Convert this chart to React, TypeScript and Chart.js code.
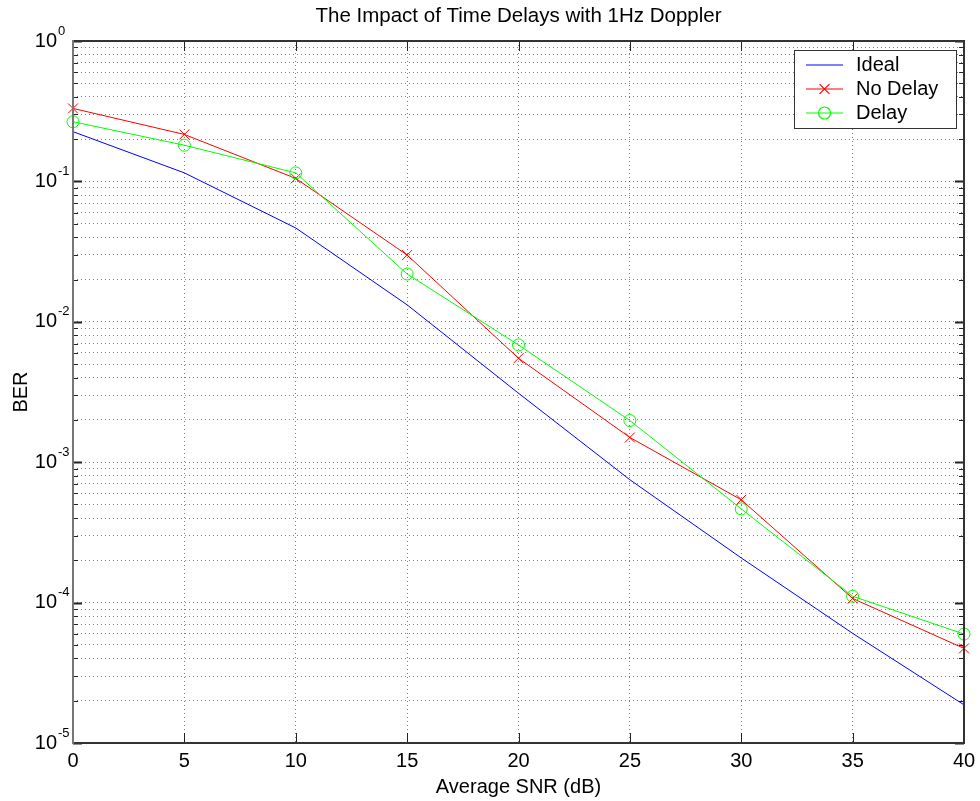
import React, { useEffect, useRef } from 'react';
import { Chart, registerables } from 'chart.js';

Chart.register(...registerables);

// ---- data ----
const snrDb = [0, 5, 10, 15, 20, 25, 30, 35, 40];
const berIdeal = [0.226, 0.115, 0.0466, 0.0132, 0.0031, 0.00075, 0.000208, 0.0000604, 0.0000187];
const berNoDelay = [0.331, 0.216, 0.105, 0.0299, 0.0055, 0.0015, 0.00054, 0.000107, 0.0000472];
const berDelay = [0.266, 0.181, 0.115, 0.0219, 0.00684, 0.00198, 0.000465, 0.000111, 0.0000597];
const seriesNames = ['Ideal', 'No Delay', 'Delay'];
const seriesColors = ['#0000ff', '#ff0000', '#00ff00'];
const seriesMarkers = ['none', 'crossRot', 'circle'];
const seriesMarkerRadius = [0, 7, 6];
const xTickLabels = ['0', '5', '10', '15', '20', '25', '30', '35', '40'];
const yDecadeExponents = [0, -1, -2, -3, -4, -5];
const titleText = 'The Impact of Time Delays with 1Hz Doppler';
const xTitleText = 'Average SNR (dB)';
const yTitleText = 'BER';

const FONT = "Arial, 'Liberation Sans', Helvetica, sans-serif";
const GRID_COLOR = 'rgba(0,0,0,0.5)';

function drawMarker(ctx: CanvasRenderingContext2D, style: string, x: number, y: number, r: number, color: string) {
  ctx.save();
  ctx.strokeStyle = color;
  ctx.lineWidth = 1.2;
  ctx.beginPath();
  if (style === 'crossRot') {
    const d = r * Math.SQRT1_2;
    ctx.moveTo(x - d, y - d);
    ctx.lineTo(x + d, y + d);
    ctx.moveTo(x - d, y + d);
    ctx.lineTo(x + d, y - d);
  } else if (style === 'circle') {
    ctx.arc(x, y, r, 0, Math.PI * 2);
  }
  ctx.stroke();
  ctx.restore();
}

const overlayPlugin = {
  id: 'matlabOverlay',
  beforeDraw(chart: any) {
    const { ctx, width, height } = chart;
    ctx.save();
    ctx.fillStyle = '#ffffff';
    ctx.fillRect(0, 0, width, height);
    ctx.restore();
  },
  afterDraw(chart: any) {
    const { ctx, chartArea: a, scales } = chart;
    const xs = scales.x;
    const ys = scales.y;
    ctx.save();

    // inward tick marks
    ctx.strokeStyle = '#222';
    ctx.lineWidth = 1;
    xs.ticks.forEach((t: any) => {
      const x = Math.round(xs.getPixelForValue(t.value)) + 0.5;
      ctx.beginPath();
      ctx.moveTo(x, a.bottom);
      ctx.lineTo(x, a.bottom - 10);
      ctx.moveTo(x, a.top);
      ctx.lineTo(x, a.top + 10);
      ctx.stroke();
    });
    ys.ticks.forEach((t: any) => {
      const y = Math.round(ys.getPixelForValue(t.value)) + 0.5;
      const lg = Math.log10(t.value);
      const major = Math.abs(lg - Math.round(lg)) < 1e-9;
      const len = major ? 9 : 5;
      ctx.lineWidth = major ? 2 : 1;
      ctx.beginPath();
      ctx.moveTo(a.left, y);
      ctx.lineTo(a.left + len, y);
      ctx.moveTo(a.right, y);
      ctx.lineTo(a.right - len, y);
      ctx.stroke();
    });

    // frame
    ctx.lineWidth = 2;
    ctx.strokeStyle = '#333';
    ctx.beginPath();
    ctx.moveTo(a.left, a.top);
    ctx.lineTo(a.right, a.top);
    ctx.lineTo(a.right, a.bottom);
    ctx.lineTo(a.left, a.bottom);
    ctx.stroke();
    ctx.strokeStyle = '#777';
    ctx.beginPath();
    ctx.moveTo(a.left, a.top - 1);
    ctx.lineTo(a.left, a.bottom + 1);
    ctx.stroke();

    // y tick labels with superscript exponents
    ctx.fillStyle = '#000';
    yDecadeExponents.forEach((e) => {
      const y = ys.getPixelForValue(Math.pow(10, e));
      ctx.font = `20px ${FONT}`;
      ctx.textAlign = 'right';
      ctx.textBaseline = 'middle';
      ctx.fillText('10', 57, y);
      ctx.font = `13px ${FONT}`;
      ctx.textAlign = 'left';
      ctx.fillText(String(e), 58, y - 10);
    });

    // x tick labels
    ctx.font = `20px ${FONT}`;
    ctx.textAlign = 'center';
    ctx.textBaseline = 'middle';
    xs.ticks.forEach((t: any, i: number) => {
      const x = xs.getPixelForValue(t.value);
      ctx.fillText(xTickLabels[i] ?? String(t.value), x, 761);
    });

    // titles
    const cx = (a.left + a.right) / 2;
    const cy = (a.top + a.bottom) / 2;
    ctx.fillText(xTitleText, cx, 787);
    ctx.font = `20.5px ${FONT}`;
    ctx.fillText(titleText, cx, 16);
    ctx.font = `20px ${FONT}`;
    ctx.save();
    ctx.translate(21, cy);
    ctx.rotate(-Math.PI / 2);
    ctx.fillText(yTitleText, 0, 0);
    ctx.restore();

    // legend
    const lx = 794, ly = 50, lw = 162, lh = 78;
    ctx.fillStyle = '#fff';
    ctx.fillRect(lx, ly, lw, lh);
    ctx.strokeStyle = '#333';
    ctx.lineWidth = 1;
    ctx.strokeRect(lx + 0.5, ly + 0.5, lw, lh);
    seriesNames.forEach((name, i) => {
      const ry = ly + 15 + i * 24;
      const col = seriesColors[i];
      ctx.save();
      ctx.strokeStyle = col;
      ctx.lineWidth = 1.2;
      ctx.beginPath();
      ctx.moveTo(806, ry);
      ctx.lineTo(843, ry);
      ctx.stroke();
      ctx.restore();
      if (seriesMarkerRadius[i] > 0) drawMarker(ctx, seriesMarkers[i], 824.5, ry, seriesMarkerRadius[i], col);
      ctx.fillStyle = '#000';
      ctx.font = `20px ${FONT}`;
      ctx.textAlign = 'left';
      ctx.textBaseline = 'middle';
      ctx.fillText(name, 856, ry);
    });

    ctx.restore();
  },
};

export default function App() {
  const canvasRef = useRef<HTMLCanvasElement | null>(null);

  useEffect(() => {
    if (!canvasRef.current) return;
    const mk = (vals: number[]) => snrDb.map((x, i) => ({ x, y: vals[i] }));
    const seriesData = [berIdeal, berNoDelay, berDelay];
    const chart = new Chart(canvasRef.current, {
      type: 'line',
      data: {
        datasets: seriesNames.map((name, i) => ({
          label: name,
          data: mk(seriesData[i]),
          borderColor: seriesColors[i],
          borderWidth: 1,
          pointRadius: seriesMarkerRadius[i],
          pointStyle: seriesMarkers[i] === 'none' ? 'circle' : (seriesMarkers[i] as any),
          pointBorderColor: seriesColors[i],
          pointBackgroundColor: 'rgba(0,0,0,0)',
          pointBorderWidth: 1,
          fill: false,
          tension: 0,
          clip: false as any,
          order: 3 - i,
        })),
      },
      options: {
        responsive: false,
        animation: false,
        events: [],
        layout: { padding: { left: 73, top: 41, right: 16, bottom: 58 } },
        plugins: {
          legend: { display: false },
          title: { display: false },
          tooltip: { enabled: false },
        },
        scales: {
          x: {
            type: 'linear',
            min: 0,
            max: 40,
            ticks: { display: false, stepSize: 5 },
            grid: { color: GRID_COLOR, lineWidth: 1, drawTicks: false },
            border: { display: false, dash: [1, 3] },
          },
          y: {
            type: 'logarithmic',
            min: 1e-5,
            max: 1,
            ticks: { display: false },
            afterBuildTicks: (axis: any) => {
              const t: { value: number }[] = [];
              for (let e = -5; e < 0; e++) {
                for (let m = 1; m <= 9; m++) t.push({ value: m * Math.pow(10, e) });
              }
              t.push({ value: 1 });
              axis.ticks = t;
            },
            grid: { color: GRID_COLOR, lineWidth: 1, drawTicks: false },
            border: { display: false, dash: [1, 3] },
          },
        },
      },
      plugins: [overlayPlugin],
    });
    return () => chart.destroy();
  }, []);

  return (
    <div style={{ position: 'absolute', left: 0, top: 0, width: 980, height: 801, background: '#fff' }}>
      <canvas ref={canvasRef} width={980} height={801} style={{ display: 'block' }} />
    </div>
  );
}
